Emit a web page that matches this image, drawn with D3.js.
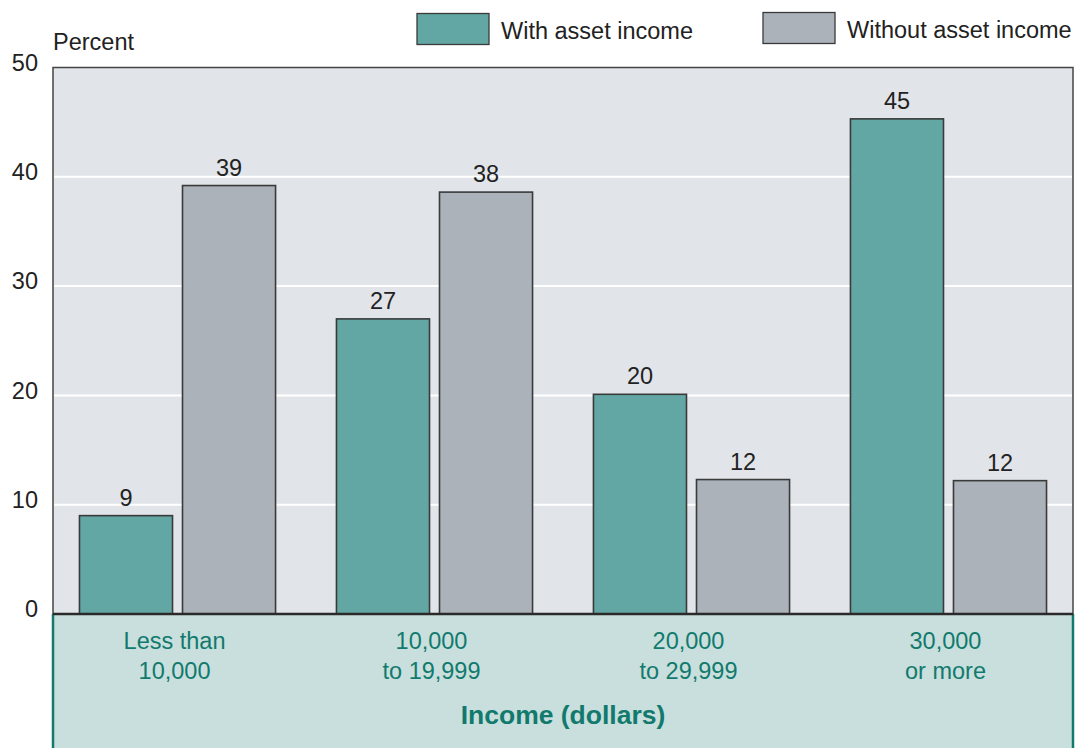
<!DOCTYPE html>
<html><head><meta charset="utf-8">
<script src="https://cdn.jsdelivr.net/npm/d3@7"></script>
<style>body{margin:0;background:#fff;} text{font-family:"Liberation Sans",Arial,sans-serif;}</style>
</head><body>
<svg id="c" width="1077" height="748"></svg>
<script>
const categories = [["Less than","10,000"],["10,000","to 19,999"],["20,000","to 29,999"],["30,000","or more"]];
const seriesNames = ["With asset income","Without asset income"];
const withAsset = [9.0, 27.0, 20.1, 45.3];
const withoutAsset = [39.2, 38.6, 12.3, 12.2];
const withLabels = ["9","27","20","45"];
const withoutLabels = ["39","38","12","12"];
const yTicks = [0,10,20,30,40,50];
const colors = ["#62a7a3","#abb2ba"];

const FS = 23.5;
const svg = d3.select("#c");
const L=53, R=1073, T=67.5, B=614;
const x = d3.scaleBand().domain(d3.range(categories.length)).range([L,R]).paddingInner(0.237).paddingOuter(0.103);
const xs = d3.scaleBand().domain([0,1]).range([0,x.bandwidth()]).paddingInner(0.097).paddingOuter(0);
const y = d3.scaleLinear().domain([0,50]).range([B,T]);

// bottom band
svg.append("rect").attr("x",L).attr("y",B).attr("width",R-L).attr("height",748-B+5).attr("fill","#c8dfdd");
svg.append("line").attr("x1",L).attr("x2",L).attr("y1",B).attr("y2",748).attr("stroke","#117a6d").attr("stroke-width",2.5);
svg.append("line").attr("x1",R).attr("x2",R).attr("y1",B).attr("y2",748).attr("stroke","#117a6d").attr("stroke-width",2.5);

// plot bg
svg.append("rect").attr("x",L).attr("y",T).attr("width",R-L).attr("height",B-T).attr("fill","#e1e5e9").attr("stroke","#444").attr("stroke-width",1.5);
// gridlines
svg.append("g").selectAll("line").data(yTicks.filter(d=>d>0&&d<50)).join("line")
  .attr("x1",L+1).attr("x2",R-1).attr("y1",d=>y(d)).attr("y2",d=>y(d)).attr("stroke","#fff").attr("stroke-width",2);

// y axis labels
const yAxis = d3.axisLeft(y).tickValues(yTicks).tickSize(0).tickPadding(15);
const ga = svg.append("g").attr("transform",`translate(${L},0)`).call(yAxis);
ga.select(".domain").remove();
ga.selectAll("text").attr("font-size",FS).attr("fill","#222").attr("dy","0.12em").attr("font-family","Liberation Sans, Arial, sans-serif");
svg.append("text").attr("x",L).attr("y",50).attr("font-size",FS).attr("fill","#222").text("Percent");

// bars
const data = categories.map((c,i)=>({i, vals:[withAsset[i],withoutAsset[i]], labs:[withLabels[i],withoutLabels[i]]}));
const g = svg.append("g").selectAll("g").data(data).join("g").attr("transform",d=>`translate(${x(d.i)},0)`);
g.selectAll("rect").data(d=>d.vals.map((v,k)=>({v,k}))).join("rect")
  .attr("x",d=>xs(d.k)).attr("width",xs.bandwidth()).attr("y",d=>y(d.v)).attr("height",d=>B-y(d.v))
  .attr("fill",d=>colors[d.k]).attr("stroke","#3a3a3a").attr("stroke-width",1.6);
g.selectAll("text.v").data(d=>d.vals.map((v,k)=>({v,k,l:d.labs[k]}))).join("text").attr("class","v")
  .attr("x",d=>xs(d.k)+xs.bandwidth()/2).attr("y",d=>y(d.v)-10).attr("text-anchor","middle")
  .attr("font-size",FS).attr("fill","#222").text(d=>d.l);

// zero line
svg.append("line").attr("x1",L).attr("x2",R).attr("y1",B).attr("y2",B).attr("stroke","#2a2a2a").attr("stroke-width",2.5);

// category labels
const cl = svg.append("g").selectAll("text").data(categories).join("text")
  .attr("text-anchor","middle").attr("font-size",FS).attr("fill","#117a6d")
  .attr("transform",(d,i)=>`translate(${x(i)+x.bandwidth()/2-3},0)`);
cl.selectAll("tspan").data(d=>d).join("tspan").attr("x",0).attr("y",(d,j)=>649+j*30).text(d=>d);
svg.append("text").attr("x",(L+R)/2).attr("y",724).attr("text-anchor","middle").attr("font-size",26.5)
  .attr("font-weight","bold").attr("fill","#117a6d").text("Income (dollars)");

// legend
const legX = [417, 763];
const lg = svg.append("g").selectAll("g").data(seriesNames).join("g").attr("transform",(d,i)=>`translate(${legX[i]},${i?12.5:13.5})`);
lg.append("rect").attr("width",72).attr("height",31).attr("fill",(d,i)=>colors[i]).attr("stroke","#3a3a3a").attr("stroke-width",1.3);
lg.append("text").attr("x",84).attr("y",25).attr("font-size",FS).attr("fill","#222").text(d=>d);
</script>
</body></html>
